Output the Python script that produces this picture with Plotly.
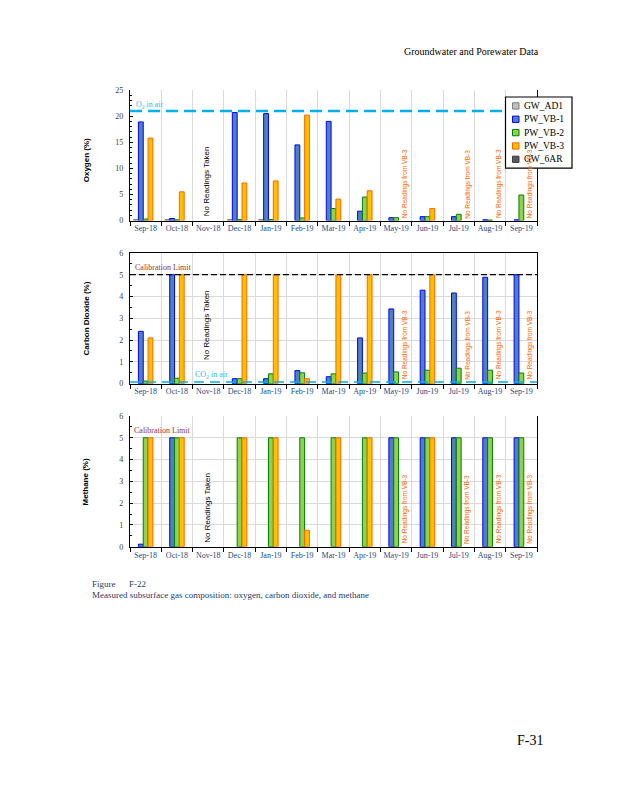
import plotly.graph_objects as go

# ---------------- data ----------------
months = ["Sep-18", "Oct-18", "Nov-18", "Dec-18", "Jan-19", "Feb-19", "Mar-19",
          "Apr-19", "May-19", "Jun-19", "Jul-19", "Aug-19", "Sep-19"]
series_names = ["GW_AD1", "PW_VB-1", "PW_VB-2", "PW_VB-3", "GW_6AR"]

# Oxygen (%)
o2_gw_ad1 = [0.2, 0.2, None, 0.2, 0.2, None, None, None, None, None, None, None, None]
o2_vb1 = [18.9, 0.4, None, 20.7, 20.5, 14.5, 19.0, 1.8, 0.55, 0.75, 0.75, 0.15, 0.15]
o2_vb2 = [0.3, 0.15, None, 0.2, 0.2, 0.5, 2.3, 4.5, 0.55, 0.75, 1.2, 0.1, 4.9]
o2_vb3 = [15.8, 5.5, None, 7.2, 7.6, 20.2, 4.1, 5.7, None, 2.3, None, None, None]
o2_gw_6ar = [None, None, None, None, None, None, None, None, None, None, None, None, None]

# Carbon dioxide (%)
co2_gw_ad1 = [None, None, None, None, None, None, None, None, None, None, None, None, None]
co2_vb1 = [2.4, 5.0, None, 0.23, 0.23, 0.6, 0.32, 2.1, 3.43, 4.29, 4.16, 4.88, 5.0]
co2_vb2 = [0.12, 0.25, None, 0.23, 0.45, 0.5, 0.45, 0.49, 0.54, 0.62, 0.71, 0.62, 0.49]
co2_vb3 = [2.1, 5.0, None, 5.0, 5.0, 0.23, 5.0, 5.0, None, 5.0, None, None, None]
co2_gw_6ar = [None, None, None, None, None, None, None, None, None, None, None, None, None]

# Methane (%)
ch4_gw_ad1 = [None, None, None, None, None, None, None, None, None, None, None, None, None]
ch4_vb1 = [0.12, 5.0, None, None, None, None, None, None, 5.0, 5.0, 5.0, 5.0, 5.0]
ch4_vb2 = [5.0, 5.0, None, 5.0, 5.0, 5.0, 5.0, 5.0, 5.0, 5.0, 5.0, 5.0, 5.0]
ch4_vb3 = [5.0, 5.0, None, 5.0, 5.0, 0.76, 5.0, 5.0, None, 5.0, None, None, None]
ch4_gw_6ar = [None, None, None, None, None, None, None, None, None, None, None, None, None]

o2_in_air = 21
co2_in_air = 0.08
calibration_limit = 5

no_reading_month = "Nov-18"
no_vb3_months = ["May-19", "Jul-19", "Aug-19", "Sep-19"]

# ---------------- styles ----------------
fills = ["#bfbfbf", "#4f81bd", "#92d050", "#ffc000", "#595959"]
edges = ["#7f7f7f", "#0000ff", "#008000", "#ff6600", "#404040"]

# the page body has an 8px margin; figure fills the rest of the 618x800 window
OFF = 8
W, H = 618 - 2 * OFF, 800 - 2 * OFF
def px_x(p): return (p - OFF) / W
def px_y(p): return 1 - (p - OFF) / H

x_dom = [px_x(130), px_x(537)]
doms = {
    "": [px_y(219), px_y(87)],
    "2": [px_y(384), px_y(251.7)],
    "3": [px_y(549), px_y(416.7)],
}

fig = go.Figure()

panels = [
    ("", [o2_gw_ad1, o2_vb1, o2_vb2, o2_vb3, o2_gw_6ar]),
    ("2", [co2_gw_ad1, co2_vb1, co2_vb2, co2_vb3, co2_gw_6ar]),
    ("3", [ch4_gw_ad1, ch4_vb1, ch4_vb2, ch4_vb3, ch4_gw_6ar]),
]

for suffix, data in panels:
    for name, vals, fc, ec in zip(series_names, data, fills, edges):
        fig.add_trace(go.Bar(
            x=months, y=vals, name=name, showlegend=False,
            marker=dict(color=fc, line=dict(color=ec, width=1)),
            xaxis="x" + suffix, yaxis="y" + suffix,
        ))

tickfont_x = dict(family="Liberation Serif", size=8, color="#1f497d")
tickfont_y = dict(family="Liberation Serif", size=8, color="#404040")
GRID = "#dadada"

def xaxis_cfg(suffix, mirror):
    return dict(
        domain=x_dom, anchor="y" + suffix, type="category",
        categoryorder="array", categoryarray=months,
        tickson="boundaries", ticks="outside", ticklen=4, tickcolor="black",
        tickangle=0,
        showgrid=True, gridcolor=GRID, gridwidth=1.2,
        showline=True, linecolor="black", linewidth=1.3, mirror=mirror,
        tickfont=tickfont_x, fixedrange=True,
    )

def yaxis_cfg(suffix, rng, dtick, minor_dtick, grid):
    return dict(
        domain=doms[suffix], anchor="x" + suffix, range=rng, dtick=dtick,
        ticks="inside", ticklen=3, tickcolor="black",
        minor=dict(dtick=minor_dtick, ticks="inside", ticklen=2, tickcolor="black", showgrid=False),
        showgrid=grid, gridcolor=GRID, gridwidth=1.2, zeroline=False,
        showline=True, linecolor="black", linewidth=1.3, mirror=True,
        tickfont=tickfont_y, ticklabelstandoff=4, fixedrange=True,
    )

fig.update_layout(
    xaxis=xaxis_cfg("", False),
    xaxis2=xaxis_cfg("2", True),
    xaxis3=xaxis_cfg("3", False),
    yaxis=yaxis_cfg("", [0, 25], 5, 1, False),
    yaxis2=yaxis_cfg("2", [0, 6], 1, 0.5, True),
    yaxis3=yaxis_cfg("3", [0, 6], 1, 0.5, True),
)

shapes = [
    dict(type="line", xref="x domain", yref="y", x0=0, x1=1, y0=o2_in_air, y1=o2_in_air,
         line=dict(color="#00b0f0", width=2.5, dash="12px,6px")),
    dict(type="line", xref="x2 domain", yref="y2", x0=0, x1=1, y0=calibration_limit, y1=calibration_limit,
         line=dict(color="black", width=1.3, dash="6px,3px")),
    dict(type="line", xref="x2 domain", yref="y2", x0=0, x1=1, y0=co2_in_air, y1=co2_in_air,
         line=dict(color="#00b0f0", width=1.5, dash="10px,6px")),
]

annotations = []
# line labels
annotations.append(dict(xref="x domain", yref="y", x=0.01, y=o2_in_air, yshift=6, xanchor="left",
                        yanchor="middle", text="O<sub>2</sub> in air", showarrow=False,
                        font=dict(family="Liberation Serif", size=8, color="#33b5e5")))
annotations.append(dict(xref="x2 domain", yref="y2", x=0.008, y=calibration_limit, yshift=7, xanchor="left",
                        yanchor="middle", text="Calibration Limit", showarrow=False,
                        font=dict(family="Liberation Serif", size=8, color="#943634")))
annotations.append(dict(xref="x3 domain", yref="y3", x=0.005, y=calibration_limit, yshift=7, xanchor="left",
                        yanchor="middle", text="Calibration Limit", showarrow=False,
                        font=dict(family="Liberation Serif", size=8, color="#943634")))
annotations.append(dict(xref="x2 domain", yref="y2", x=0.155, y=co2_in_air, yshift=7, xanchor="left",
                        yanchor="middle", text="CO<sub>2</sub> in air", showarrow=False,
                        font=dict(family="Liberation Serif", size=8, color="#33b5e5")))

# "No Readings Taken" / "No Readings from VB-3" texts
for suffix, yv, yy in [("", 7.6, 7.0), ("2", 2.7, 1.77), ("3", 1.8, 1.72)]:
    annotations.append(dict(xref="x" + suffix, yref="y" + suffix, x=no_reading_month, y=yv,
                            xanchor="center", yanchor="middle",
                            text="No Readings Taken", textangle=-90, showarrow=False, xshift=-1,
                            font=dict(family="Liberation Sans", size=8, color="black")))
    for m in no_vb3_months:
        annotations.append(dict(xref="x" + suffix, yref="y" + suffix, x=m, y=yy,
                                xanchor="center", yanchor="middle",
                                text="No Readings from VB-3", textangle=-90, showarrow=False, xshift=9,
                                font=dict(family="Liberation Sans", size=6.5, color="#ff6600")))

# y-axis titles
for title, ypx in [("Oxygen (%)", 158), ("Carbon Dioxide (%)", 318), ("Methane (%)", 484)]:
    annotations.append(dict(xref="paper", yref="paper", x=px_x(86), y=px_y(ypx),
                            xanchor="center", yanchor="middle", text="<b>" + title + "</b>",
                            textangle=-90, showarrow=False,
                            font=dict(family="Liberation Sans", size=8, color="black")))

# compact legend (box with swatches + series names)
leg_x0, leg_x1, leg_y0, leg_y1 = 505.5, 572, 94, 166
shapes.append(dict(type="rect", xref="paper", yref="paper",
                   x0=px_x(leg_x0), x1=px_x(leg_x1), y0=px_y(leg_y1), y1=px_y(leg_y0),
                   fillcolor="white", line=dict(color="black", width=1.2), layer="above"))
for i, (name, fc, ec) in enumerate(zip(series_names, fills, edges)):
    cy = 103 + i * 13.5
    shapes.append(dict(type="rect", xref="paper", yref="paper",
                       x0=px_x(512.5), x1=px_x(519), y0=px_y(cy + 3.2), y1=px_y(cy - 3.2),
                       fillcolor=fc, line=dict(color=ec, width=1), layer="above"))
    annotations.append(dict(xref="paper", yref="paper", x=px_x(521.5), y=px_y(cy), xanchor="left",
                            yanchor="middle", text=name, showarrow=False,
                            font=dict(family="Liberation Serif", size=9.5, color="black")))

# page texts
annotations.append(dict(xref="paper", yref="paper", x=px_x(541), y=px_y(48), xanchor="right",
                        yanchor="middle", text="Groundwater and Porewater Data", showarrow=False,
                        font=dict(family="Liberation Serif", size=10, color="black")))
annotations.append(dict(xref="paper", yref="paper", x=px_x(90), y=px_y(587), xanchor="left",
                        yanchor="middle", text="Figure&nbsp;&nbsp;&nbsp;&nbsp;&nbsp;&nbsp;F-22", showarrow=False,
                        font=dict(family="Liberation Serif", size=9, color="#1f3a68")))
annotations.append(dict(xref="paper", yref="paper", x=px_x(90), y=px_y(598), xanchor="left",
                        yanchor="middle",
                        text="Measured subsurface gas composition: oxygen, carbon dioxide, and methane",
                        showarrow=False,
                        font=dict(family="Liberation Serif", size=9, color="#1f3a68")))
annotations.append(dict(xref="paper", yref="paper", x=px_x(545), y=px_y(745), xanchor="right",
                        yanchor="middle", text="F-31", showarrow=False,
                        font=dict(family="Liberation Serif", size=14, color="black")))

fig.update_layout(
    width=W, height=H, autosize=False,
    margin=dict(l=0, r=0, t=0, b=0),
    paper_bgcolor="white", plot_bgcolor="white",
    barmode="group", bargap=0.23, bargroupgap=0,
    shapes=shapes, annotations=annotations,
    showlegend=False,
    font=dict(family="Liberation Serif"),
)

fig.write_html("out.html")
